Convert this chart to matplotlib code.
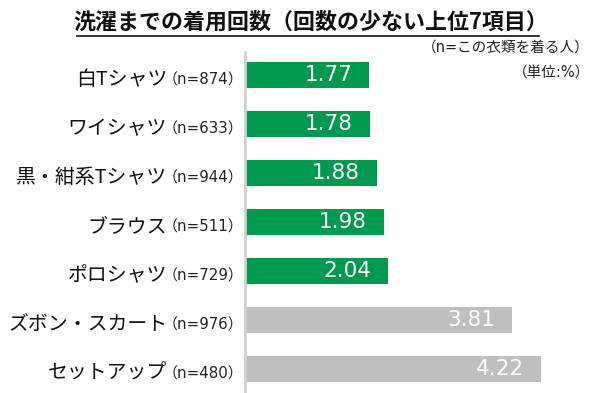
import matplotlib
matplotlib.use("Agg")
import matplotlib.pyplot as plt
import matplotlib.transforms as mtrans
from matplotlib.lines import Line2D

plt.rcParams['font.family'] = ['Noto Sans CJK JP', 'DejaVu Sans']
MIX = ['DejaVu Sans', 'Noto Sans CJK JP']

categories = ["白Tシャツ", "ワイシャツ", "黒・紺系Tシャツ", "ブラウス", "ポロシャツ", "ズボン・スカート", "セットアップ"]
n_labels = ["（n=874）", "（n=633）", "（n=944）", "（n=511）", "（n=729）", "（n=976）", "（n=480）"]
values = [1.77, 1.78, 1.88, 1.98, 2.04, 3.81, 4.22]
highlight = [True, True, True, True, True, False, False]
title = "洗濯までの着用回数（回数の少ない上位7項目）"
note1 = "（n=この衣類を着る人）"
note2 = "（単位:%）"

GREEN = "#00994d"
GRAY = "#bfbfbf"

W, H = 592, 393
fig = plt.figure(figsize=(W / 100, H / 100), dpi=100)
ax_left = 245 / W
ax_top = 52 / H
ax = fig.add_axes([ax_left, 0, 1 - ax_left, 1 - ax_top])

ypos = list(range(len(categories)))
colors = [GREEN if h else GRAY for h in highlight]
ax.barh(ypos, values, height=0.54, color=colors, left=0)
ax.set_xlim(0, (W - 245) / 70.1)
ax.set_ylim((393 - 75) / 49.0, (52 - 75) / 49.0)
for s in ["top", "right", "bottom"]:
    ax.spines[s].set_visible(False)
ax.spines["left"].set_color("#d0d0d0")
ax.spines["left"].set_linewidth(2)
ax.set_xticks([])
ax.set_yticks([])

for i, v in enumerate(values):
    ax.annotate(f"{v:.2f}", xy=(v, i), xytext=(-12, 0), textcoords="offset points",
                ha="right", va="center", color="white", fontsize=15.5,
                family=['DejaVu Sans'])

fig.canvas.draw()
renderer = fig.canvas.get_renderer()
pix_y = mtrans.blended_transform_factory(mtrans.IdentityTransform(), ax.transData)
for i, (c, nl) in enumerate(zip(categories, n_labels)):
    t_n = ax.text(243, i + 0.2, nl, transform=pix_y, ha="right",
                  va="baseline", fontsize=10.8, color="#222222", family=MIX)
    bb = t_n.get_window_extent(renderer)
    ax.text(bb.x0 + 5, i + 0.2, c, transform=pix_y,
            ha="right", va="baseline", fontsize=14.3, color="#111111")

t = fig.text(311 / W, 1 - 22 / H, title, ha="center", va="center",
             fontsize=15.8, fontweight="bold", color="#111111")
fig.canvas.draw()
tb = t.get_window_extent(renderer)
uy = 1 - 36 / H
fig.add_artist(Line2D([(tb.x0 + 3) / W, (tb.x1 - 9) / W], [uy, uy], transform=fig.transFigure,
                      color="#111111", linewidth=1.2))

fig.text(590 / W, 1 - 47 / H, note1, ha="right", va="center", fontsize=10.5,
         color="#222222", family=MIX)
fig.text(590 / W, 1 - 72 / H, note2, ha="right", va="center", fontsize=10.5,
         color="#222222", family=MIX)

fig.savefig("out.png", dpi=100)
